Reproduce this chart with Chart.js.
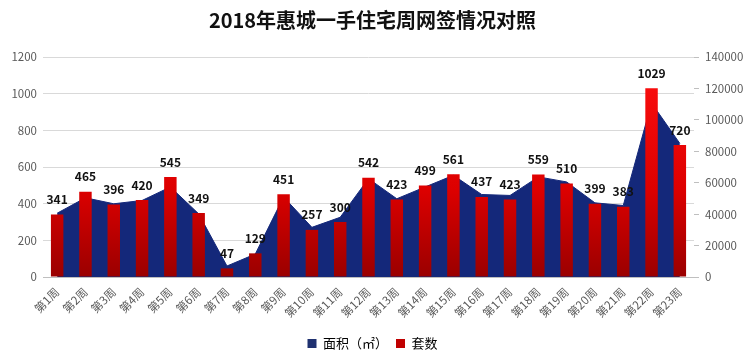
<!DOCTYPE html>
<html>
<head>
<meta charset="utf-8">
<script src="https://cdn.jsdelivr.net/npm/chart.js@4.4.0/dist/chart.umd.min.js"></script>
<style>
  html, body { margin: 0; padding: 0; background: #fff; }
  #wrap { width: 749px; height: 362px; }
</style>
</head>
<body>
<div id="wrap"><canvas id="chart" width="749" height="362"></canvas></div>
<script>
// weeks
var weeks = ['第1周','第2周','第3周','第4周','第5周','第6周','第7周','第8周','第9周','第10周','第11周','第12周',
             '第13周','第14周','第15周','第16周','第17周','第18周','第19周','第20周','第21周','第22周','第23周'];
// 套数 (left axis)
var units = [341,465,396,420,545,349,47,129,451,257,300,542,423,499,561,437,423,559,510,399,383,1029,720];
// 面积 m2 (right axis)
var area = [40600,50400,46600,48700,57300,40200,7000,14600,50900,31600,38000,62600,
            49800,57300,64700,52500,51900,63700,60500,47200,45500,110700,85000];

var font = '"Noto Sans CJK SC", "Noto Sans", sans-serif';

// bar value labels
var barLabels = {
    id: 'barLabels',
    afterDatasetsDraw: function(chart) {
        var ctx = chart.ctx;
        var meta = chart.getDatasetMeta(1);
        ctx.save();
        ctx.font = 'bold 12px ' + font;
        ctx.fillStyle = '#111';
        ctx.textAlign = 'center';
        ctx.textBaseline = 'middle';
        meta.data.forEach(function(bar, i) {
            ctx.fillText(units[i], bar.x, bar.y - 15);
        });
        ctx.restore();
    }
};

var ctx = document.getElementById('chart');

var myChart = new Chart(ctx, {
    data: {
        labels: weeks,
        datasets: [
            {
                type: 'line',
                label: '面积（㎡）',
                data: area,
                yAxisID: 'y2',
                fill: 'origin',
                backgroundColor: '#14287a',
                borderColor: '#14287a',
                borderWidth: 1,
                pointRadius: 0,
                tension: 0,
                order: 2
            },
            {
                type: 'bar',
                label: '套数',
                data: units,
                yAxisID: 'y',
                backgroundColor: function(c) {
                    var area = c.chart.chartArea;
                    if (!area) return '#d00000';
                    var g = c.chart.ctx.createLinearGradient(0, area.top, 0, area.bottom);
                    g.addColorStop(0, '#ff1010');
                    g.addColorStop(0.6, '#dd0000');
                    g.addColorStop(1, '#9a0000');
                    return g;
                },
                barPercentage: 0.44,
                categoryPercentage: 1,
                order: 1
            }
        ]
    },
    options: {
        responsive: false,
        animation: false,
        layout: { padding: { top: 6, bottom: 2, left: 0, right: 4 } },
        plugins: {
            tooltip: { enabled: false },
            title: {
                display: true,
                text: '2018年惠城一手住宅周网签情况对照',
                color: '#111',
                font: { family: font, size: 20, weight: 'bold' },
                padding: { top: 2, bottom: 25 }
            },
            legend: {
                position: 'bottom',
                labels: {
                    color: '#404040',
                    font: { family: font, size: 13 },
                    boxWidth: 9,
                    boxHeight: 9,
                    padding: 8,
                    generateLabels: function(chart) {
                        return [
                            { text: '面积（㎡）', fillStyle: '#1f3170', strokeStyle: '#1f3170', lineWidth: 0, datasetIndex: 0 },
                            { text: '套数', fillStyle: '#c00000', strokeStyle: '#c00000', lineWidth: 0, datasetIndex: 1 }
                        ];
                    }
                }
            }
        },
        scales: {
            x: {
                grid: { display: false },
                border: { color: '#bfbfbf' },
                ticks: {
                    color: '#595959',
                    font: { family: font, size: 11.5 },
                    maxRotation: 45,
                    minRotation: 45,
                    autoSkip: false,
                    padding: 0
                },
                afterFit: function(s) { s.height = 52; }
            },
            y: {
                position: 'left',
                min: 0,
                max: 1200,
                ticks: {
                    stepSize: 200,
                    color: '#595959',
                    font: { family: font, size: 11.5 },
                    padding: 6,
                    callback: function(v) { return String(v); }
                },
                grid: { color: '#d9d9d9', drawTicks: false },
                border: { display: false },
                afterFit: function(s) { s.width = 43; }
            },
            y2: {
                position: 'right',
                min: 0,
                max: 140000,
                ticks: {
                    stepSize: 20000,
                    color: '#595959',
                    font: { family: font, size: 11.5 },
                    padding: 6,
                    callback: function(v) { return String(v); }
                },
                grid: { drawOnChartArea: false, color: '#bfbfbf', tickLength: 5 },
                border: { display: false },
                afterFit: function(s) { s.width = 51; }
            }
        }
    },
    plugins: [barLabels]
});
</script>
</body>
</html>
